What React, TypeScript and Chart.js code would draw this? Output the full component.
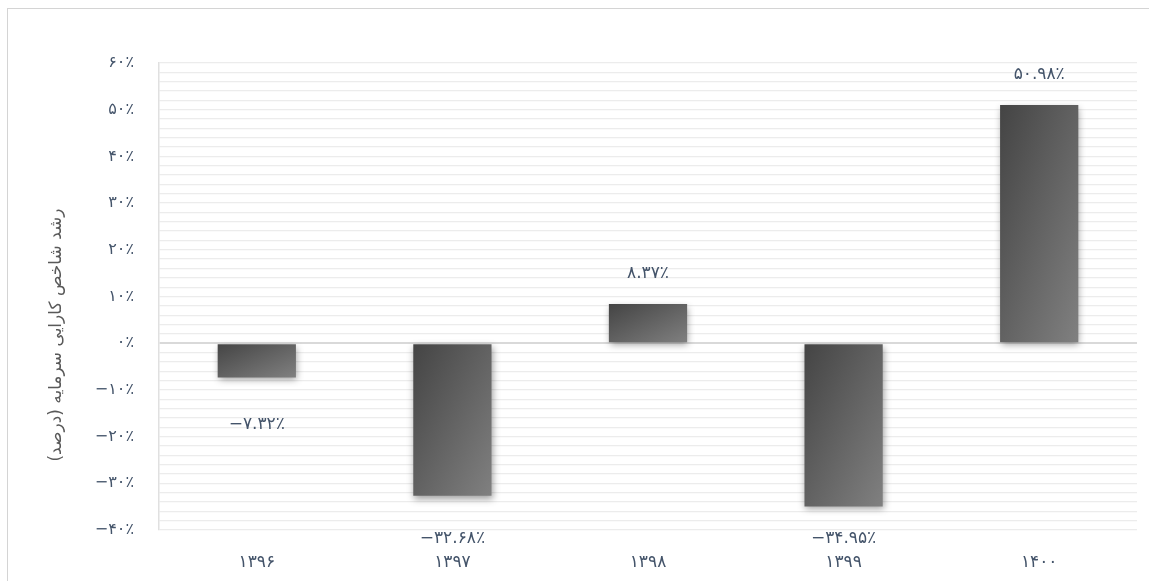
import React, { useEffect, useRef } from 'react';
import { Chart, registerables } from 'chart.js';

Chart.register(...registerables);

const categories = ['۱۳۹۶', '۱۳۹۷', '۱۳۹۸', '۱۳۹۹', '۱۴۰۰'];
const values = [-7.32, -32.68, 8.37, -34.95, 50.98];
const valueLabels = ['−۷.۳۲٪', '−۳۲.۶۸٪', '۸.۳۷٪', '−۳۴.۹۵٪', '۵۰.۹۸٪'];
const tickValues = [-40, -30, -20, -10, 0, 10, 20, 30, 40, 50, 60];
const tickLabels = ['−۴۰٪', '−۳۰٪', '−۲۰٪', '−۱۰٪', '۰٪', '۱۰٪', '۲۰٪', '۳۰٪', '۴۰٪', '۵۰٪', '۶۰٪'];
const yTitle = 'رشد شاخص کارایی سرمایه (درصد)';

const FONT = '"DejaVu Sans", "Noto Sans", sans-serif';
const TEXT_COLOR = '#44546a';
const BAR_PCT = 0.4;

const shadowPlugin = {
  id: 'barShadow',
  beforeDatasetDraw(chart: any) {
    const c = chart.ctx;
    c.save();
    c.shadowColor = 'rgba(0,0,0,0.38)';
    c.shadowBlur = 7;
    c.shadowOffsetX = 1;
    c.shadowOffsetY = 3;
  },
  afterDatasetDraw(chart: any) {
    chart.ctx.restore();
  },
};

const labelPlugin = {
  id: 'valueLabels',
  afterDatasetsDraw(chart: any) {
    const c = chart.ctx;
    const meta = chart.getDatasetMeta(0);
    c.save();
    c.font = `17px ${FONT}`;
    c.fillStyle = TEXT_COLOR;
    c.textAlign = 'center';
    c.textBaseline = 'middle';
    meta.data.forEach((el: any, i: number) => {
      const v = values[i];
      let y;
      if (v >= 0) {
        y = el.y - 31;
      } else {
        y = Math.min(el.y + 47, chart.chartArea.bottom + 9);
      }
      c.fillText(valueLabels[i], el.x, y);
    });
    c.restore();
  },
};

const titlePlugin = {
  id: 'yTitle',
  afterDraw(chart: any) {
    const c = chart.ctx;
    c.save();
    c.translate(57, 335);
    c.rotate(-Math.PI / 2);
    c.font = `17px ${FONT}`;
    c.fillStyle = '#595959';
    c.textAlign = 'center';
    c.textBaseline = 'middle';
    (c as any).direction = 'rtl';
    c.fillText(yTitle, 0, 0);
    c.restore();
  },
};

export default function App() {
  const ref = useRef<HTMLCanvasElement | null>(null);

  useEffect(() => {
    if (!ref.current) return;
    const chart = new Chart(ref.current, {
      type: 'bar',
      data: {
        labels: categories,
        datasets: [
          {
            data: values,
            barPercentage: BAR_PCT,
            categoryPercentage: 1,
            borderWidth: 0,
            backgroundColor: (ctx: any) => {
              const ch = ctx.chart;
              const xs = ch.scales?.x;
              const ys = ch.scales?.y;
              if (!xs || !ys || ctx.dataIndex === undefined || !ch.chartArea) return '#606060';
              const i = ctx.dataIndex;
              const v = values[i];
              const cx = xs.getPixelForValue(i);
              const w = (xs.width / categories.length) * BAR_PCT;
              const y0 = ys.getPixelForValue(0);
              const y1 = ys.getPixelForValue(v);
              const top = Math.min(y0, y1);
              const h = Math.max(1, Math.abs(y1 - y0));
              const left = cx - w / 2;
              const nx = 1 / (2 * w);
              const ny = 1 / (2 * h);
              const n2 = nx * nx + ny * ny;
              const dx = nx / n2;
              const dy = ny / n2;
              const g = ch.ctx.createLinearGradient(left, top, left + dx, top + dy);
              g.addColorStop(0, '#444444');
              g.addColorStop(1, '#808080');
              return g;
            },
          },
        ],
      },
      options: {
        animation: false,
        responsive: false,
        maintainAspectRatio: false,
        layout: { padding: { left: 0, right: 12, top: 63, bottom: 11 } },
        plugins: {
          legend: { display: false },
          tooltip: { enabled: false },
          title: { display: false },
        },
        scales: {
          x: {
            grid: { display: false, drawTicks: false },
            border: { display: false },
            ticks: {
              color: TEXT_COLOR,
              font: { family: FONT, size: 17 },
              padding: 22,
              maxRotation: 0,
            },
            afterFit(scale: any) {
              scale.height = 40;
            },
          },
          y: {
            min: -40,
            max: 60,
            grid: {
              drawTicks: false,
              color: (ctx: any) => (ctx.tick && ctx.tick.value === 0 ? '#d9d9d9' : '#ececec'),
              lineWidth: (ctx: any) => (ctx.tick && ctx.tick.value === 0 ? 2 : 1.3),
            },
            border: { display: true, color: '#e0e0e0', width: 1.5 },
            ticks: {
              stepSize: 2,
              autoSkip: false,
              color: TEXT_COLOR,
              font: { family: FONT, size: 16 },
              padding: 25,
              callback: (val: any) => {
                const idx = tickValues.indexOf(Math.round(Number(val) * 1000) / 1000);
                return idx >= 0 ? tickLabels[idx] : '';
              },
            },
            afterFit(scale: any) {
              scale.width = 159;
            },
          },
        },
      },
      plugins: [shadowPlugin, labelPlugin, titlePlugin],
    });
    return () => chart.destroy();
  }, []);

  return (
    <div style={{ position: 'fixed', left: 0, top: 0, width: 1149, height: 581, background: '#fff', overflow: 'hidden' }}>
      <div
        style={{
          position: 'absolute',
          left: 7,
          top: 8,
          width: 1200,
          height: 700,
          borderLeft: '1px solid #d4d4d4',
          borderTop: '1px solid #d4d4d4',
        }}
      />
      <canvas ref={ref} width={1149} height={581} style={{ position: 'absolute', left: 0, top: 0, width: 1149, height: 581 }} />
    </div>
  );
}
